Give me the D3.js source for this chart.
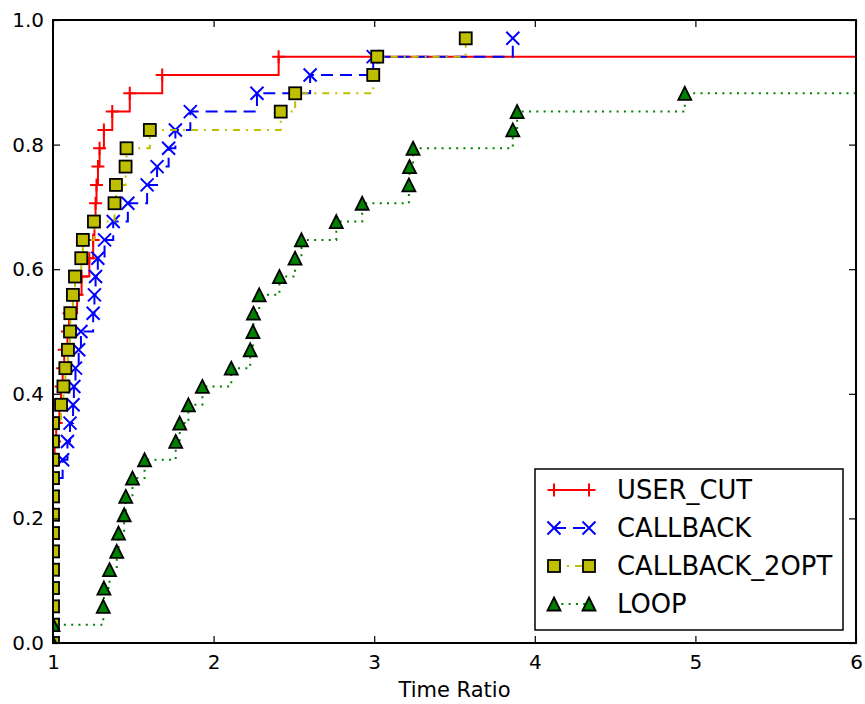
<!DOCTYPE html>
<html>
<head>
<meta charset="utf-8">
<script src="https://cdn.jsdelivr.net/npm/d3@7"></script>
<style>
  body { margin: 0; background: #fff; }
  svg { display: block; font-family: "DejaVu Sans", sans-serif; }
</style>
</head>
<body>
<svg id="chart" width="865" height="704"></svg>
<script>
// performance profile: sorted time ratio per problem, Infinity = not solved
const problems = 34;
const seriesNames = ["USER_CUT", "CALLBACK", "CALLBACK_2OPT", "LOOP"];
const userCut = [1, 1, 1, 1, 1, 1, 1, 1, 1, 1, 1, 1.01, 1.02, 1.04, 1.05, 1.06, 1.07,
  1.09, 1.10, 1.15, 1.178, 1.226, 1.25, 1.258, 1.265, 1.271, 1.28, 1.29, 1.317,
  1.369, 1.478, 1.68, 2.405, Infinity];
const callback = [1, 1, 1, 1, 1, 1, 1, 1, 1, 1, 1.06, 1.09, 1.106, 1.125, 1.13, 1.14,
  1.16, 1.174, 1.25, 1.258, 1.265, 1.279, 1.321, 1.375, 1.466, 1.586, 1.648, 1.72,
  1.762, 1.855, 2.27, 2.601, 2.994, 3.863];
const callback2opt = [1, 1, 1, 1, 1, 1, 1, 1, 1, 1, 1, 1, 1, 1.05, 1.065, 1.077, 1.093,
  1.106, 1.108, 1.124, 1.137, 1.176, 1.186, 1.255, 1.383, 1.392, 1.452, 1.458, 1.603,
  2.418, 2.508, 2.994, 3.019, 3.57];
const loop = [1, 1, 1.313, 1.317, 1.352, 1.397, 1.408, 1.443, 1.453, 1.495, 1.57, 1.764,
  1.789, 1.843, 1.93, 2.11, 2.228, 2.245, 2.248, 2.284, 2.41, 2.507, 2.547, 2.764,
  2.925, 3.216, 3.22, 3.242, 3.863, 3.89, 4.934, Infinity, Infinity, Infinity];
const xTicks = [1, 2, 3, 4, 5, 6];
const yTicks = [0, 0.2, 0.4, 0.6, 0.8, 1.0];

const styles = [
  {color: "#ff0000", dash: null, marker: "plus"},
  {color: "#0000ff", dash: "12,7", marker: "x"},
  {color: "#bfbf00", dash: "7,6,2,6", marker: "square"},
  {color: "#008000", dash: "2,5.3", marker: "triangle"}
];
const ratios = [userCut, callback, callback2opt, loop];

const svg = d3.select("#chart");
const margin = {top: 20, right: 9, bottom: 61, left: 53};
const W = 865 - margin.left - margin.right;
const H = 704 - margin.top - margin.bottom;

const x = d3.scaleLinear().domain([1, 6]).range([0, W]);
const y = d3.scaleLinear().domain([0, 1]).range([H, 0]);

const g = svg.append("g").attr("transform", `translate(${margin.left},${margin.top})`);

g.append("clipPath").attr("id", "clip")
  .append("rect").attr("width", W).attr("height", H);

const line = d3.line()
  .x(d => x(Math.min(d.r, 7)))
  .y(d => y(d.p))
  .curve(d3.curveStepAfter);

function drawMarker(sel, kind, color) {
  if (kind === "plus") {
    sel.append("path").attr("d", "M-6.5,0H6.5M0,-6.5V6.5")
      .attr("stroke", color).attr("stroke-width", 2).attr("fill", "none");
  } else if (kind === "x") {
    sel.append("path").attr("d", "M-6.5,-6.5L6.5,6.5M-6.5,6.5L6.5,-6.5")
      .attr("stroke", color).attr("stroke-width", 2).attr("fill", "none");
  } else if (kind === "square") {
    sel.append("rect").attr("x", -6).attr("y", -6).attr("width", 12).attr("height", 12)
      .attr("fill", color).attr("stroke", "#000").attr("stroke-width", 1.8);
  } else {
    sel.append("path").attr("d", "M0,-6.5L6.5,6.5L-6.5,6.5Z")
      .attr("fill", color).attr("stroke", "#000").attr("stroke-width", 1.8)
      .attr("stroke-linejoin", "miter");
  }
}

const plot = g.append("g").attr("clip-path", "url(#clip)");

ratios.forEach((rs, si) => {
  const st = styles[si];
  const pts = rs.map((r, i) => ({r: r, p: i / problems}));
  plot.append("path")
    .datum(pts)
    .attr("d", line)
    .attr("fill", "none")
    .attr("stroke", st.color)
    .attr("stroke-width", 2)
    .attr("stroke-dasharray", st.dash);
  plot.append("g").selectAll("g")
    .data(pts.filter(d => isFinite(d.r)))
    .join("g")
    .attr("transform", d => `translate(${x(d.r)},${y(d.p)})`)
    .each(function() { drawMarker(d3.select(this), st.marker, st.color); });
});

// axes, classic style: ticks inside on all four sides
const tickLen = 7;
const xAxis = g.append("g").attr("transform", `translate(0,${H})`)
  .call(d3.axisBottom(x).tickValues(xTicks).tickSizeInner(-tickLen).tickSizeOuter(0).tickPadding(10).tickFormat(d3.format("d")));
const xTop = g.append("g")
  .call(d3.axisTop(x).tickValues(xTicks).tickSizeInner(-tickLen).tickSizeOuter(0).tickFormat(""));
const yAxis = g.append("g")
  .call(d3.axisLeft(y).tickValues(yTicks).tickSizeInner(-tickLen).tickSizeOuter(0).tickPadding(9).tickFormat(d3.format(".1f")));
const yRight = g.append("g").attr("transform", `translate(${W},0)`)
  .call(d3.axisRight(y).tickValues(yTicks).tickSizeInner(-tickLen).tickSizeOuter(0).tickFormat(""));

[xAxis, xTop, yAxis, yRight].forEach(a => {
  a.select(".domain").remove();
  a.selectAll(".tick line").attr("stroke", "#000").attr("stroke-width", 1.2);
  a.selectAll(".tick text").attr("font-size", 20).attr("fill", "#000")
    .attr("font-family", "DejaVu Sans");
});
xAxis.selectAll(".tick text").attr("dy", "0.8em");

g.append("rect").attr("width", W).attr("height", H)
  .attr("fill", "none").attr("stroke", "#000").attr("stroke-width", 2);

g.append("text")
  .attr("x", W / 2).attr("y", H + 54)
  .attr("text-anchor", "middle")
  .attr("font-size", 21)
  .text("Time Ratio");

// legend
const legend = svg.append("g").attr("transform", "translate(535,469)");
legend.append("rect").attr("width", 308).attr("height", 161)
  .attr("fill", "#fff").attr("stroke", "#000").attr("stroke-width", 1.5);
seriesNames.forEach((name, i) => {
  const st = styles[i];
  const row = legend.append("g").attr("transform", `translate(0,${21 + i * 38})`);
  row.append("line").attr("x1", 19).attr("x2", 54)
    .attr("stroke", st.color).attr("stroke-width", 2)
    .attr("stroke-dasharray", st.dash);
  [19, 54].forEach(mx => drawMarker(row.append("g").attr("transform", `translate(${mx},0)`), st.marker, st.color));
  row.append("text").attr("x", 82).attr("dy", "0.36em")
    .attr("font-size", 25.8).text(name);
});
</script>
</body>
</html>
